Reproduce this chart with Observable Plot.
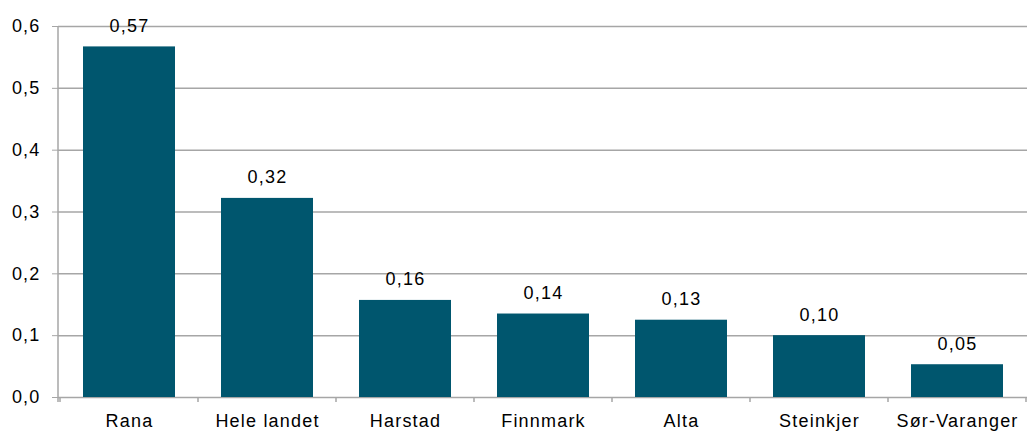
<!DOCTYPE html>
<html>
<head>
<meta charset="utf-8">
<script src="https://cdn.jsdelivr.net/npm/d3@7"></script>
<script src="https://cdn.jsdelivr.net/npm/@observablehq/plot@0.6"></script>
<style>
  body { margin: 0; background: #fff; }
  #chart svg { display: block; }
  #chart svg text { letter-spacing: 1.2px; }
</style>
</head>
<body>
<div id="chart"></div>
<script>
const categories = ["Rana", "Hele landet", "Harstad", "Finnmark", "Alta", "Steinkjer", "Sør-Varanger"];
const values = [0.567, 0.322, 0.157, 0.135, 0.125, 0.100, 0.053];
const labels = ["0,57", "0,32", "0,16", "0,14", "0,13", "0,10", "0,05"];
const yTicks = [0, 0.1, 0.2, 0.3, 0.4, 0.5, 0.6];

const data = categories.map((c, i) => ({cat: c, value: values[i], label: labels[i]}));
const grid = "#a6a6a6";
const fmt = d => d3.format(".1f")(d).replace(".", ",");

const axisLines = (index, scales, vals, dims) => {
  const x = scales.x;
  const bw = x.bandwidth ? x.bandwidth() : 0;
  const step = x(categories[1]) - x(categories[0]);
  const gap = (step - bw) / 2;
  const y0 = dims.height - dims.marginBottom;
  const g = d3.create("svg:g");
  g.append("line").attr("x1", dims.marginLeft).attr("x2", dims.marginLeft)
    .attr("y1", dims.marginTop).attr("y2", y0 + 5)
    .attr("stroke", grid).attr("stroke-width", 1.5);
  const xs = categories.map(c => x(c) - gap);
  xs.push(x(categories[categories.length - 1]) + bw + gap);
  for (const xv of xs) {
    g.append("line").attr("x1", xv).attr("x2", xv).attr("y1", y0).attr("y2", y0 + 5)
      .attr("stroke", grid).attr("stroke-width", 1.5);
  }
  return g.node();
};

const chart = Plot.plot({
  width: 1027,
  height: 433,
  marginLeft: 58,
  marginRight: 0,
  marginTop: 26,
  marginBottom: 36,
  style: {fontFamily: "Liberation Sans, Arial, sans-serif", fontSize: "18px", color: "#000", background: "#fff"},
  x: {domain: categories, paddingInner: 0.336, paddingOuter: 0.168, label: null},
  y: {domain: [0, 0.6], label: null},
  marks: [
    Plot.ruleY(yTicks, {stroke: grid, strokeWidth: 1.5}),
    Plot.barY(data, {x: "cat", y: "value", fill: "#00566e"}),
    Plot.text(data, {x: "cat", y: "value", text: "label", dy: -15, lineAnchor: "bottom", fontSize: 18, fill: "#000"}),
    Plot.axisY({ticks: yTicks, tickFormat: fmt, tickSize: 6, tickPadding: 12, stroke: grid, fontSize: 18, label: null}),
    Plot.axisX({tickSize: 0, tickPadding: 17, fontSize: 18, label: null}),
    axisLines
  ]
});
document.getElementById("chart").append(chart);
</script>
</body>
</html>
